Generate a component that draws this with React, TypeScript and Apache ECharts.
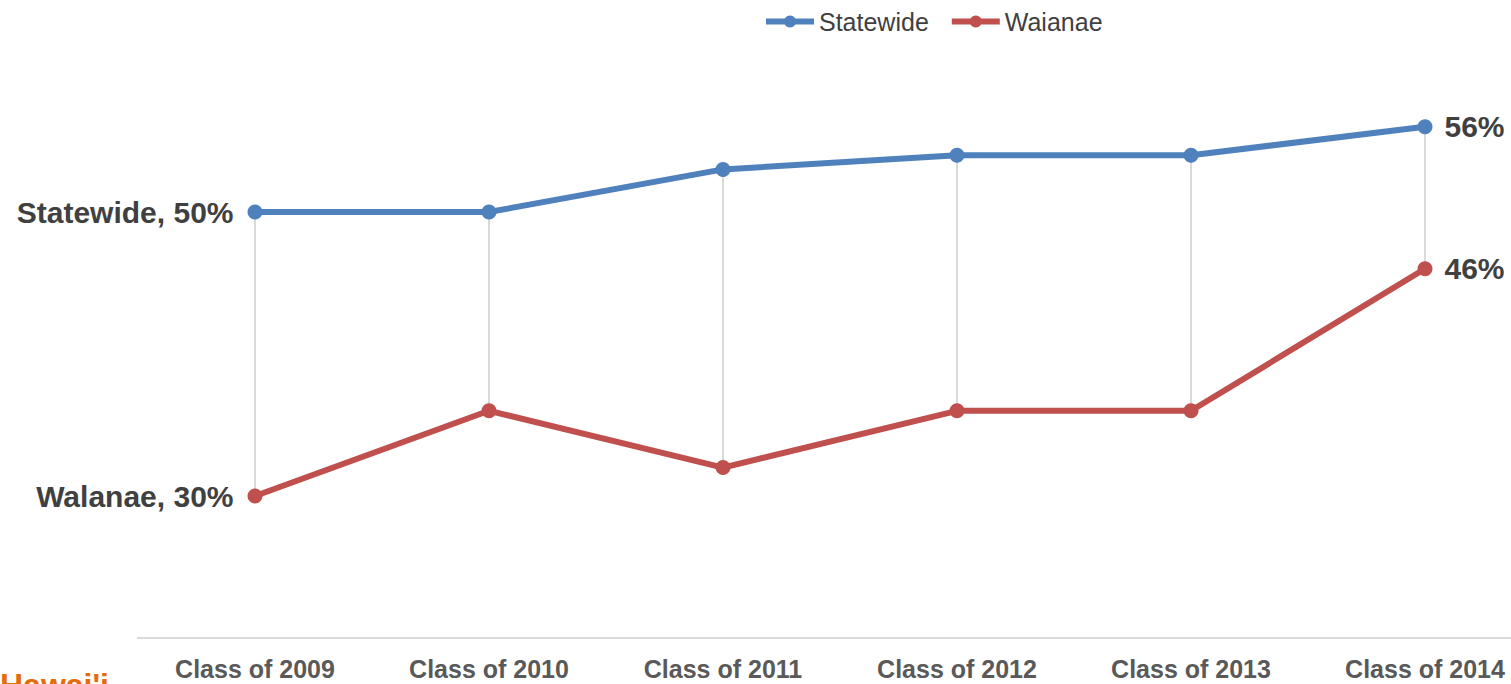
import React, { useEffect, useRef } from "react";
import * as echarts from "echarts";

const categories = ["Class of 2009", "Class of 2010", "Class of 2011", "Class of 2012", "Class of 2013", "Class of 2014"];
const statewide = [50, 50, 53, 54, 54, 56];
const waianae = [30, 36, 32, 36, 36, 46];
const seriesNames = ["Statewide", "Waianae"];
const startLabels = ["Statewide, 50%", "Walanae, 30%"];

const FONT = "Liberation Sans, Arial, sans-serif";

export default function App() {
  const ref = useRef<HTMLDivElement>(null);
  useEffect(() => {
    const chart = echarts.init(ref.current!, null, { renderer: "svg" });
    const ranges = categories.map((_, i) => [i, waianae[i], statewide[i]]);
    const last = categories.length - 1;
    const labelBase = {
      show: true,
      fontFamily: FONT,
      fontWeight: "bold",
      fontSize: 30,
      color: "#404040",
    };
    const buildData = (arr: number[], startText: string) =>
      arr.map((v, i) => {
        if (i === 0) return { value: v, label: { ...labelBase, position: "left", distance: 14, formatter: startText } };
        if (i === last) return { value: v, label: { ...labelBase, position: "right", distance: 12, formatter: v + "%" } };
        return { value: v, label: { show: false } };
      });
    const chart_w = 1511;
    chart.setOption({
      animation: false,
      backgroundColor: "#ffffff",
      textStyle: { fontFamily: FONT },
      legend: {
        top: 4,
        left: 758,
        itemWidth: 48,
        itemHeight: 15,
        itemGap: 20,
        lineStyle: { width: 6 },
        textStyle: { fontSize: 25, color: "#404040", fontFamily: FONT },
        data: seriesNames,
      },
      grid: { left: 255, top: 70, right: chart_w - 1425, bottom: 46, containLabel: false },
      xAxis: {
        type: "category",
        data: categories,
        boundaryGap: false,
        axisLine: { show: false },
        axisTick: { show: false },
        splitLine: { show: false },
        axisLabel: {
          fontSize: 25,
          fontWeight: "bold",
          color: "#595959",
          margin: 18,
          fontFamily: FONT,
        },
      },
      yAxis: {
        type: "value",
        min: 20,
        max: 60,
        show: false,
        splitLine: { show: false },
      },
      series: [
        {
          type: "custom",
          name: "range",
          silent: true,
          z: 1,
          data: ranges,
          renderItem: (params: any, api: any) => {
            const p1 = api.coord([api.value(0), api.value(1)]);
            const p2 = api.coord([api.value(0), api.value(2)]);
            return {
              type: "line",
              shape: { x1: p1[0], y1: p1[1], x2: p2[0], y2: p2[1] },
              style: { stroke: "#D9D9D9", lineWidth: 2 },
            };
          },
        },
        {
          type: "line",
          name: seriesNames[0],
          data: buildData(statewide, startLabels[0]),
          z: 3,
          color: "#4F81BD",
          symbol: "circle",
          symbolSize: 15,
          lineStyle: { width: 6, color: "#4F81BD" },
          itemStyle: { color: "#4F81BD" },
        },
        {
          type: "line",
          name: seriesNames[1],
          data: buildData(waianae, startLabels[1]),
          z: 3,
          color: "#C0504D",
          symbol: "circle",
          symbolSize: 15,
          lineStyle: { width: 6, color: "#C0504D" },
          itemStyle: { color: "#C0504D" },
        },
      ],
      graphic: [
        {
          type: "line",
          shape: { x1: 137, y1: 638, x2: 1511, y2: 638 },
          style: { stroke: "#D9D9D9", lineWidth: 2 },
        },
        {
          type: "text",
          left: 0,
          top: 669,
          style: {
            text: "Hawai'i",
            fontSize: 32,
            fontWeight: "bold",
            fill: "#E46C0A",
            fontFamily: FONT,
          },
        },
      ],
    });
    return () => chart.dispose();
  }, []);
  return <div ref={ref} style={{ position: "absolute", left: 0, top: 0, width: 1511, height: 684 }} />;
}
